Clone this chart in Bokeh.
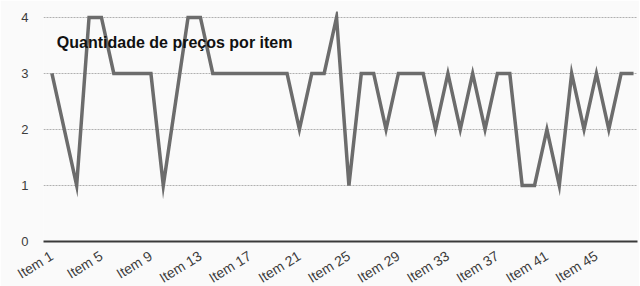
from bokeh.plotting import figure
from bokeh.models import FixedTicker, Range1d, Label
from bokeh.embed import file_html
from bokeh.resources import INLINE

items = ["Item %d" % i for i in range(1, 49)]
counts = [3, 2, 1, 4, 4, 3, 3, 3, 3, 1,
          2.5, 4, 4, 3, 3, 3, 3, 3, 3, 3,
          2, 3, 3, 4, 1, 3, 3, 2, 3, 3,
          3, 2, 3, 2, 3, 2, 3, 3, 1, 1,
          2, 1, 3, 2, 3, 2, 3, 3]
y_ticks = [0, 1, 2, 3, 4]
title_text = "Quantidade de preços por item"

x = list(range(1, len(items) + 1))
label_idx = list(range(1, len(items) + 1, 4))

p = figure(frame_width=594, frame_height=230, output_backend="svg", toolbar_location=None,
           x_range=Range1d(0.32, 48.32), y_range=Range1d(0, 4.107),
           min_border_left=43, min_border_right=2, min_border_top=11, min_border_bottom=42)
p.background_fill_color = "#fafafa"
p.border_fill_color = "#fafafa"
p.outline_line_color = None

p.line(x, counts, line_color="#6c6c6c", line_width=3.5, line_join="miter")

p.xgrid.grid_line_color = None
p.ygrid.ticker = FixedTicker(ticks=y_ticks[1:])
p.ygrid.grid_line_color = "#b0b0b0"
p.ygrid.grid_line_dash = "2 1"
p.ygrid.grid_line_width = 1

xa = p.xaxis[0]
xa.ticker = FixedTicker(ticks=label_idx)
xa.major_label_overrides = {i: items[i - 1] for i in label_idx}
xa.major_label_orientation = 0.55
xa.major_tick_line_color = None
xa.minor_tick_line_color = None
xa.axis_line_color = "#3a3a3a"
xa.axis_line_width = 1.8
xa.major_label_text_font = "Liberation Sans"
xa.major_label_text_font_size = "14px"
xa.major_label_text_color = "#3c3c3c"
xa.major_label_standoff = 7

ya = p.yaxis[0]
ya.ticker = FixedTicker(ticks=y_ticks)
ya.axis_line_color = None
ya.major_tick_line_color = None
ya.minor_tick_line_color = None
ya.major_label_text_font = "Liberation Sans"
ya.major_label_text_font_size = "13px"
ya.major_label_text_color = "#3c3c3c"
ya.major_label_standoff = 9

p.add_layout(Label(x=1.4, y=3.56, text=title_text, text_font="Liberation Sans",
                   text_font_style="bold", text_font_size="16px", text_color="#111111",
                   text_baseline="alphabetic"))

open("out.html", "w").write(file_html(p, INLINE))
